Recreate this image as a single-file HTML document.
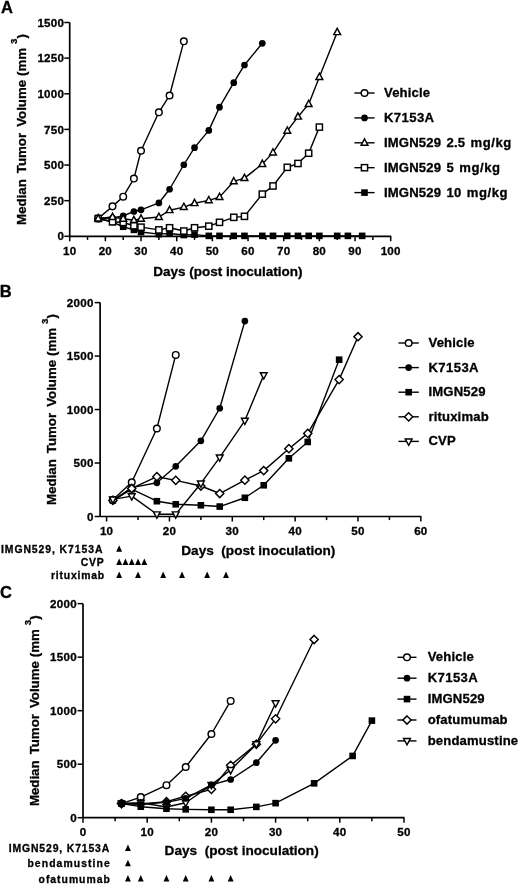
<!DOCTYPE html>
<html><head><meta charset="utf-8"><style>
html,body{margin:0;padding:0;background:#fff;}
svg{display:block;filter:blur(0.3px);}
text{font-family:"Liberation Sans", sans-serif;font-weight:bold;fill:#000;white-space:pre;stroke:#000;stroke-width:0.3px;}
</style></head><body>
<svg width="520" height="885" viewBox="0 0 520 885">
<rect width="520" height="885" fill="#fff"/>
<text x="1.00" y="13.20" font-size="16.5" text-anchor="start">A</text>
<path d="M69.70 22.51V236.30" stroke="#000" stroke-width="1.7" fill="none"/>
<path d="M69.70 236.30H391.20" stroke="#000" stroke-width="1.7" fill="none"/>
<path d="M64.30 236.30H69.70" stroke="#000" stroke-width="1.5"/>
<text x="64.20" y="240.40" font-size="11.6" text-anchor="end" letter-spacing="0.25">0</text>
<path d="M64.30 200.67H69.70" stroke="#000" stroke-width="1.5"/>
<text x="64.20" y="204.77" font-size="11.6" text-anchor="end" letter-spacing="0.25">250</text>
<path d="M64.30 165.04H69.70" stroke="#000" stroke-width="1.5"/>
<text x="64.20" y="169.14" font-size="11.6" text-anchor="end" letter-spacing="0.25">500</text>
<path d="M64.30 129.40H69.70" stroke="#000" stroke-width="1.5"/>
<text x="64.20" y="133.50" font-size="11.6" text-anchor="end" letter-spacing="0.25">750</text>
<path d="M64.30 93.77H69.70" stroke="#000" stroke-width="1.5"/>
<text x="64.20" y="97.87" font-size="11.6" text-anchor="end" letter-spacing="0.25">1000</text>
<path d="M64.30 58.14H69.70" stroke="#000" stroke-width="1.5"/>
<text x="64.20" y="62.24" font-size="11.6" text-anchor="end" letter-spacing="0.25">1250</text>
<path d="M64.30 22.51H69.70" stroke="#000" stroke-width="1.5"/>
<text x="64.20" y="26.61" font-size="11.6" text-anchor="end" letter-spacing="0.25">1500</text>
<path d="M69.70 236.30V241.30" stroke="#000" stroke-width="1.5"/>
<text x="69.70" y="255.40" font-size="11.6" text-anchor="middle" letter-spacing="0.25">10</text>
<path d="M105.37 236.30V241.30" stroke="#000" stroke-width="1.5"/>
<text x="105.37" y="255.40" font-size="11.6" text-anchor="middle" letter-spacing="0.25">20</text>
<path d="M141.03 236.30V241.30" stroke="#000" stroke-width="1.5"/>
<text x="141.03" y="255.40" font-size="11.6" text-anchor="middle" letter-spacing="0.25">30</text>
<path d="M176.70 236.30V241.30" stroke="#000" stroke-width="1.5"/>
<text x="176.70" y="255.40" font-size="11.6" text-anchor="middle" letter-spacing="0.25">40</text>
<path d="M212.37 236.30V241.30" stroke="#000" stroke-width="1.5"/>
<text x="212.37" y="255.40" font-size="11.6" text-anchor="middle" letter-spacing="0.25">50</text>
<path d="M248.04 236.30V241.30" stroke="#000" stroke-width="1.5"/>
<text x="248.04" y="255.40" font-size="11.6" text-anchor="middle" letter-spacing="0.25">60</text>
<path d="M283.70 236.30V241.30" stroke="#000" stroke-width="1.5"/>
<text x="283.70" y="255.40" font-size="11.6" text-anchor="middle" letter-spacing="0.25">70</text>
<path d="M319.37 236.30V241.30" stroke="#000" stroke-width="1.5"/>
<text x="319.37" y="255.40" font-size="11.6" text-anchor="middle" letter-spacing="0.25">80</text>
<path d="M355.04 236.30V241.30" stroke="#000" stroke-width="1.5"/>
<text x="355.04" y="255.40" font-size="11.6" text-anchor="middle" letter-spacing="0.25">90</text>
<path d="M390.70 236.30V241.30" stroke="#000" stroke-width="1.5"/>
<text x="390.70" y="255.40" font-size="11.6" text-anchor="middle" letter-spacing="0.25">100</text>
<path d="M87.53 236.30V239.90" stroke="#000" stroke-width="1.5"/>
<path d="M123.20 236.30V239.90" stroke="#000" stroke-width="1.5"/>
<path d="M158.87 236.30V239.90" stroke="#000" stroke-width="1.5"/>
<path d="M194.53 236.30V239.90" stroke="#000" stroke-width="1.5"/>
<path d="M230.20 236.30V239.90" stroke="#000" stroke-width="1.5"/>
<path d="M265.87 236.30V239.90" stroke="#000" stroke-width="1.5"/>
<path d="M301.54 236.30V239.90" stroke="#000" stroke-width="1.5"/>
<path d="M337.20 236.30V239.90" stroke="#000" stroke-width="1.5"/>
<path d="M372.87 236.30V239.90" stroke="#000" stroke-width="1.5"/>
<text x="153.20" y="275.70" font-size="13.5" text-anchor="start">Days (post inoculation)</text>
<text transform="translate(25.90 129.50) rotate(-90)" font-size="13.25" text-anchor="middle">Median<tspan dx="2.4"> Tumor</tspan><tspan dx="2.4"> Volume</tspan><tspan dx="0.3"> (mm</tspan><tspan font-size="9.6" dy="-8.6" dx="3.9">3</tspan><tspan dy="8.6" dx="0.2">)</tspan></text>
<path d="M98.23 218.48L112.50 206.37L123.20 196.68L133.90 178.58L141.03 150.78L158.87 112.30L169.57 95.48L183.83 41.32" stroke="#000" stroke-width="1.4" fill="none" stroke-linejoin="round"/>
<circle cx="98.23" cy="218.48" r="3.30" fill="#fff" stroke="#000" stroke-width="1.45"/>
<circle cx="112.50" cy="206.37" r="3.30" fill="#fff" stroke="#000" stroke-width="1.45"/>
<circle cx="123.20" cy="196.68" r="3.30" fill="#fff" stroke="#000" stroke-width="1.45"/>
<circle cx="133.90" cy="178.58" r="3.30" fill="#fff" stroke="#000" stroke-width="1.45"/>
<circle cx="141.03" cy="150.78" r="3.30" fill="#fff" stroke="#000" stroke-width="1.45"/>
<circle cx="158.87" cy="112.30" r="3.30" fill="#fff" stroke="#000" stroke-width="1.45"/>
<circle cx="169.57" cy="95.48" r="3.30" fill="#fff" stroke="#000" stroke-width="1.45"/>
<circle cx="183.83" cy="41.32" r="3.30" fill="#fff" stroke="#000" stroke-width="1.45"/>
<path d="M98.23 218.48L112.50 218.06L123.20 215.78L133.90 211.50L141.03 209.79L158.87 202.95L169.57 189.27L183.83 164.75L194.53 147.65L208.80 130.40L219.50 107.17L233.77 82.65L244.47 64.98L262.30 43.31" stroke="#000" stroke-width="1.4" fill="none" stroke-linejoin="round"/>
<circle cx="98.23" cy="218.48" r="3.35" fill="#000"/>
<circle cx="112.50" cy="218.06" r="3.35" fill="#000"/>
<circle cx="123.20" cy="215.78" r="3.35" fill="#000"/>
<circle cx="133.90" cy="211.50" r="3.35" fill="#000"/>
<circle cx="141.03" cy="209.79" r="3.35" fill="#000"/>
<circle cx="158.87" cy="202.95" r="3.35" fill="#000"/>
<circle cx="169.57" cy="189.27" r="3.35" fill="#000"/>
<circle cx="183.83" cy="164.75" r="3.35" fill="#000"/>
<circle cx="194.53" cy="147.65" r="3.35" fill="#000"/>
<circle cx="208.80" cy="130.40" r="3.35" fill="#000"/>
<circle cx="219.50" cy="107.17" r="3.35" fill="#000"/>
<circle cx="233.77" cy="82.65" r="3.35" fill="#000"/>
<circle cx="244.47" cy="64.98" r="3.35" fill="#000"/>
<circle cx="262.30" cy="43.31" r="3.35" fill="#000"/>
<path d="M98.23 218.48L112.50 222.05L123.20 226.75L133.90 229.89L141.03 232.02L158.87 234.16L169.57 233.45L183.83 235.02L194.53 234.59L208.80 235.87L219.50 235.87L233.77 235.87L244.47 235.87L262.30 235.87L273.00 235.87L287.27 235.87L297.97 235.87L308.67 235.87L319.37 235.87L337.20 235.87L347.90 235.87L362.17 235.87" stroke="#000" stroke-width="1.4" fill="none" stroke-linejoin="round"/>
<rect x="94.93" y="215.18" width="6.60" height="6.60" fill="#000"/>
<rect x="109.20" y="218.75" width="6.60" height="6.60" fill="#000"/>
<rect x="119.90" y="223.45" width="6.60" height="6.60" fill="#000"/>
<rect x="130.60" y="226.59" width="6.60" height="6.60" fill="#000"/>
<rect x="137.73" y="228.72" width="6.60" height="6.60" fill="#000"/>
<rect x="155.57" y="230.86" width="6.60" height="6.60" fill="#000"/>
<rect x="166.27" y="230.15" width="6.60" height="6.60" fill="#000"/>
<rect x="180.53" y="231.72" width="6.60" height="6.60" fill="#000"/>
<rect x="191.23" y="231.29" width="6.60" height="6.60" fill="#000"/>
<rect x="205.50" y="232.57" width="6.60" height="6.60" fill="#000"/>
<rect x="216.20" y="232.57" width="6.60" height="6.60" fill="#000"/>
<rect x="230.47" y="232.57" width="6.60" height="6.60" fill="#000"/>
<rect x="241.17" y="232.57" width="6.60" height="6.60" fill="#000"/>
<rect x="259.00" y="232.57" width="6.60" height="6.60" fill="#000"/>
<rect x="269.70" y="232.57" width="6.60" height="6.60" fill="#000"/>
<rect x="283.97" y="232.57" width="6.60" height="6.60" fill="#000"/>
<rect x="294.67" y="232.57" width="6.60" height="6.60" fill="#000"/>
<rect x="305.37" y="232.57" width="6.60" height="6.60" fill="#000"/>
<rect x="316.07" y="232.57" width="6.60" height="6.60" fill="#000"/>
<rect x="333.90" y="232.57" width="6.60" height="6.60" fill="#000"/>
<rect x="344.60" y="232.57" width="6.60" height="6.60" fill="#000"/>
<rect x="358.87" y="232.57" width="6.60" height="6.60" fill="#000"/>
<path d="M98.23 218.48L112.50 221.76L123.20 222.47L133.90 225.75L141.03 227.18L158.87 229.89L169.57 227.75L183.83 231.03L194.53 227.75L208.80 226.18L219.50 222.33L233.77 217.34L244.47 216.35L262.30 194.11L273.00 185.99L287.27 167.32L297.97 163.47L308.67 153.21L319.37 127.12" stroke="#000" stroke-width="1.4" fill="none" stroke-linejoin="round"/>
<rect x="95.13" y="215.38" width="6.20" height="6.20" fill="#fff" stroke="#000" stroke-width="1.45"/>
<rect x="109.40" y="218.66" width="6.20" height="6.20" fill="#fff" stroke="#000" stroke-width="1.45"/>
<rect x="120.10" y="219.37" width="6.20" height="6.20" fill="#fff" stroke="#000" stroke-width="1.45"/>
<rect x="130.80" y="222.65" width="6.20" height="6.20" fill="#fff" stroke="#000" stroke-width="1.45"/>
<rect x="137.93" y="224.08" width="6.20" height="6.20" fill="#fff" stroke="#000" stroke-width="1.45"/>
<rect x="155.77" y="226.79" width="6.20" height="6.20" fill="#fff" stroke="#000" stroke-width="1.45"/>
<rect x="166.47" y="224.65" width="6.20" height="6.20" fill="#fff" stroke="#000" stroke-width="1.45"/>
<rect x="180.73" y="227.93" width="6.20" height="6.20" fill="#fff" stroke="#000" stroke-width="1.45"/>
<rect x="191.43" y="224.65" width="6.20" height="6.20" fill="#fff" stroke="#000" stroke-width="1.45"/>
<rect x="205.70" y="223.08" width="6.20" height="6.20" fill="#fff" stroke="#000" stroke-width="1.45"/>
<rect x="216.40" y="219.23" width="6.20" height="6.20" fill="#fff" stroke="#000" stroke-width="1.45"/>
<rect x="230.67" y="214.24" width="6.20" height="6.20" fill="#fff" stroke="#000" stroke-width="1.45"/>
<rect x="241.37" y="213.25" width="6.20" height="6.20" fill="#fff" stroke="#000" stroke-width="1.45"/>
<rect x="259.20" y="191.01" width="6.20" height="6.20" fill="#fff" stroke="#000" stroke-width="1.45"/>
<rect x="269.90" y="182.89" width="6.20" height="6.20" fill="#fff" stroke="#000" stroke-width="1.45"/>
<rect x="284.17" y="164.22" width="6.20" height="6.20" fill="#fff" stroke="#000" stroke-width="1.45"/>
<rect x="294.87" y="160.37" width="6.20" height="6.20" fill="#fff" stroke="#000" stroke-width="1.45"/>
<rect x="305.57" y="150.11" width="6.20" height="6.20" fill="#fff" stroke="#000" stroke-width="1.45"/>
<rect x="316.27" y="124.02" width="6.20" height="6.20" fill="#fff" stroke="#000" stroke-width="1.45"/>
<path d="M98.23 218.48L112.50 217.06L123.20 218.77L133.90 220.19L141.03 218.77L158.87 217.06L169.57 210.22L183.83 207.08L194.53 203.23L208.80 200.38L219.50 197.10L233.77 181.43L244.47 178.15L262.30 164.04L273.00 152.63L287.27 130.83L297.97 116.72L308.67 104.17L319.37 77.09L337.20 32.20" stroke="#000" stroke-width="1.4" fill="none" stroke-linejoin="round"/>
<path d="M98.23 214.58L101.63 220.88L94.83 220.88Z" fill="#fff" stroke="#000" stroke-width="1.45"/>
<path d="M112.50 213.16L115.90 219.46L109.10 219.46Z" fill="#fff" stroke="#000" stroke-width="1.45"/>
<path d="M123.20 214.87L126.60 221.17L119.80 221.17Z" fill="#fff" stroke="#000" stroke-width="1.45"/>
<path d="M133.90 216.29L137.30 222.59L130.50 222.59Z" fill="#fff" stroke="#000" stroke-width="1.45"/>
<path d="M141.03 214.87L144.43 221.17L137.63 221.17Z" fill="#fff" stroke="#000" stroke-width="1.45"/>
<path d="M158.87 213.16L162.27 219.46L155.47 219.46Z" fill="#fff" stroke="#000" stroke-width="1.45"/>
<path d="M169.57 206.32L172.97 212.62L166.17 212.62Z" fill="#fff" stroke="#000" stroke-width="1.45"/>
<path d="M183.83 203.18L187.23 209.48L180.43 209.48Z" fill="#fff" stroke="#000" stroke-width="1.45"/>
<path d="M194.53 199.33L197.93 205.63L191.13 205.63Z" fill="#fff" stroke="#000" stroke-width="1.45"/>
<path d="M208.80 196.48L212.20 202.78L205.40 202.78Z" fill="#fff" stroke="#000" stroke-width="1.45"/>
<path d="M219.50 193.20L222.90 199.50L216.10 199.50Z" fill="#fff" stroke="#000" stroke-width="1.45"/>
<path d="M233.77 177.53L237.17 183.83L230.37 183.83Z" fill="#fff" stroke="#000" stroke-width="1.45"/>
<path d="M244.47 174.25L247.87 180.55L241.07 180.55Z" fill="#fff" stroke="#000" stroke-width="1.45"/>
<path d="M262.30 160.14L265.70 166.44L258.90 166.44Z" fill="#fff" stroke="#000" stroke-width="1.45"/>
<path d="M273.00 148.73L276.40 155.03L269.60 155.03Z" fill="#fff" stroke="#000" stroke-width="1.45"/>
<path d="M287.27 126.93L290.67 133.23L283.87 133.23Z" fill="#fff" stroke="#000" stroke-width="1.45"/>
<path d="M297.97 112.82L301.37 119.12L294.57 119.12Z" fill="#fff" stroke="#000" stroke-width="1.45"/>
<path d="M308.67 100.27L312.07 106.57L305.27 106.57Z" fill="#fff" stroke="#000" stroke-width="1.45"/>
<path d="M319.37 73.19L322.77 79.49L315.97 79.49Z" fill="#fff" stroke="#000" stroke-width="1.45"/>
<path d="M337.20 28.30L340.60 34.60L333.80 34.60Z" fill="#fff" stroke="#000" stroke-width="1.45"/>
<path d="M354.40 93.00H374.60" stroke="#000" stroke-width="1.4"/>
<circle cx="364.50" cy="93.00" r="3.30" fill="#fff" stroke="#000" stroke-width="1.45"/>
<text x="384.00" y="96.90" font-size="13.1" text-anchor="start" letter-spacing="0.15" word-spacing="1.6">Vehicle</text>
<path d="M354.40 117.90H374.60" stroke="#000" stroke-width="1.4"/>
<circle cx="364.50" cy="117.90" r="3.35" fill="#000"/>
<text x="384.00" y="121.80" font-size="13.1" text-anchor="start" letter-spacing="0.4" word-spacing="1.6">K7153A</text>
<path d="M354.40 142.80H374.60" stroke="#000" stroke-width="1.4"/>
<path d="M364.50 138.90L367.90 145.20L361.10 145.20Z" fill="#fff" stroke="#000" stroke-width="1.45"/>
<text x="384.00" y="146.70" font-size="13.1" text-anchor="start" letter-spacing="0.15" word-spacing="1.6">IMGN529 2.5 <tspan letter-spacing="0.55">mg/kg</tspan></text>
<path d="M354.40 167.70H374.60" stroke="#000" stroke-width="1.4"/>
<rect x="361.40" y="164.60" width="6.20" height="6.20" fill="#fff" stroke="#000" stroke-width="1.45"/>
<text x="384.00" y="171.60" font-size="13.1" text-anchor="start" letter-spacing="0.15" word-spacing="1.6">IMGN529 5 <tspan letter-spacing="0.55">mg/kg</tspan></text>
<path d="M354.40 192.60H374.60" stroke="#000" stroke-width="1.4"/>
<rect x="361.20" y="189.30" width="6.60" height="6.60" fill="#000"/>
<text x="384.00" y="196.50" font-size="13.1" text-anchor="start" letter-spacing="0.15" word-spacing="1.6">IMGN529 10 <tspan letter-spacing="0.55">mg/kg</tspan></text>
<text x="-0.20" y="297.20" font-size="16.5" text-anchor="start">B</text>
<path d="M100.10 302.60V516.50" stroke="#000" stroke-width="1.7" fill="none"/>
<path d="M100.10 516.50H421.35" stroke="#000" stroke-width="1.7" fill="none"/>
<path d="M94.70 516.50H100.10" stroke="#000" stroke-width="1.5"/>
<text x="93.60" y="520.60" font-size="11.6" text-anchor="end" letter-spacing="0.25">0</text>
<path d="M94.70 463.02H100.10" stroke="#000" stroke-width="1.5"/>
<text x="93.60" y="467.12" font-size="11.6" text-anchor="end" letter-spacing="0.25">500</text>
<path d="M94.70 409.55H100.10" stroke="#000" stroke-width="1.5"/>
<text x="93.60" y="413.65" font-size="11.6" text-anchor="end" letter-spacing="0.25">1000</text>
<path d="M94.70 356.07H100.10" stroke="#000" stroke-width="1.5"/>
<text x="93.60" y="360.18" font-size="11.6" text-anchor="end" letter-spacing="0.25">1500</text>
<path d="M94.70 302.60H100.10" stroke="#000" stroke-width="1.5"/>
<text x="93.60" y="306.70" font-size="11.6" text-anchor="end" letter-spacing="0.25">2000</text>
<path d="M106.60 516.50V521.50" stroke="#000" stroke-width="1.5"/>
<text x="106.60" y="535.20" font-size="11.6" text-anchor="middle" letter-spacing="0.25">10</text>
<path d="M169.45 516.50V521.50" stroke="#000" stroke-width="1.5"/>
<text x="169.45" y="535.20" font-size="11.6" text-anchor="middle" letter-spacing="0.25">20</text>
<path d="M232.30 516.50V521.50" stroke="#000" stroke-width="1.5"/>
<text x="232.30" y="535.20" font-size="11.6" text-anchor="middle" letter-spacing="0.25">30</text>
<path d="M295.15 516.50V521.50" stroke="#000" stroke-width="1.5"/>
<text x="295.15" y="535.20" font-size="11.6" text-anchor="middle" letter-spacing="0.25">40</text>
<path d="M358.00 516.50V521.50" stroke="#000" stroke-width="1.5"/>
<text x="358.00" y="535.20" font-size="11.6" text-anchor="middle" letter-spacing="0.25">50</text>
<path d="M420.85 516.50V521.50" stroke="#000" stroke-width="1.5"/>
<text x="420.85" y="535.20" font-size="11.6" text-anchor="middle" letter-spacing="0.25">60</text>
<path d="M138.03 516.50V520.10" stroke="#000" stroke-width="1.5"/>
<path d="M200.88 516.50V520.10" stroke="#000" stroke-width="1.5"/>
<path d="M263.73 516.50V520.10" stroke="#000" stroke-width="1.5"/>
<path d="M326.57 516.50V520.10" stroke="#000" stroke-width="1.5"/>
<path d="M389.42 516.50V520.10" stroke="#000" stroke-width="1.5"/>
<text x="181.30" y="555.30" font-size="13.6" text-anchor="start">Days  (post inoculation)</text>
<text transform="translate(56.10 409.50) rotate(-90)" font-size="13.25" text-anchor="middle">Median<tspan dx="2.4"> Tumor</tspan><tspan dx="2.4"> Volume</tspan><tspan dx="0.3"> (mm</tspan><tspan font-size="9.6" dy="-8.6" dx="3.9">3</tspan><tspan dy="8.6" dx="0.2">)</tspan></text>
<path d="M112.88 499.71L131.74 482.28L156.88 428.48L175.74 354.90" stroke="#000" stroke-width="1.4" fill="none" stroke-linejoin="round"/>
<circle cx="112.88" cy="499.71" r="3.30" fill="#fff" stroke="#000" stroke-width="1.45"/>
<circle cx="131.74" cy="482.28" r="3.30" fill="#fff" stroke="#000" stroke-width="1.45"/>
<circle cx="156.88" cy="428.48" r="3.30" fill="#fff" stroke="#000" stroke-width="1.45"/>
<circle cx="175.74" cy="354.90" r="3.30" fill="#fff" stroke="#000" stroke-width="1.45"/>
<path d="M112.88 500.46L131.74 487.62L156.88 482.81L175.74 466.34L200.88 440.78L219.73 408.27L244.87 321.10" stroke="#000" stroke-width="1.4" fill="none" stroke-linejoin="round"/>
<circle cx="112.88" cy="500.46" r="3.35" fill="#000"/>
<circle cx="131.74" cy="487.62" r="3.35" fill="#000"/>
<circle cx="156.88" cy="482.81" r="3.35" fill="#000"/>
<circle cx="175.74" cy="466.34" r="3.35" fill="#000"/>
<circle cx="200.88" cy="440.78" r="3.35" fill="#000"/>
<circle cx="219.73" cy="408.27" r="3.35" fill="#000"/>
<circle cx="244.87" cy="321.10" r="3.35" fill="#000"/>
<path d="M112.88 500.46L131.74 489.23L156.88 501.21L175.74 504.31L200.88 505.27L219.73 506.55L244.87 497.78L263.73 485.27L288.87 458.32L307.72 441.96L339.14 359.71" stroke="#000" stroke-width="1.4" fill="none" stroke-linejoin="round"/>
<rect x="109.58" y="497.16" width="6.60" height="6.60" fill="#000"/>
<rect x="128.44" y="485.93" width="6.60" height="6.60" fill="#000"/>
<rect x="153.58" y="497.91" width="6.60" height="6.60" fill="#000"/>
<rect x="172.44" y="501.01" width="6.60" height="6.60" fill="#000"/>
<rect x="197.57" y="501.97" width="6.60" height="6.60" fill="#000"/>
<rect x="216.43" y="503.25" width="6.60" height="6.60" fill="#000"/>
<rect x="241.57" y="494.48" width="6.60" height="6.60" fill="#000"/>
<rect x="260.43" y="481.97" width="6.60" height="6.60" fill="#000"/>
<rect x="285.56" y="455.02" width="6.60" height="6.60" fill="#000"/>
<rect x="304.42" y="438.66" width="6.60" height="6.60" fill="#000"/>
<rect x="335.84" y="356.41" width="6.60" height="6.60" fill="#000"/>
<path d="M112.88 500.46L131.74 488.48L156.88 476.71L175.74 480.35L200.88 486.02L219.73 493.51L244.87 480.14L263.73 470.62L288.87 448.69L307.72 433.40L339.14 379.60L358.00 336.72" stroke="#000" stroke-width="1.4" fill="none" stroke-linejoin="round"/>
<path d="M112.88 496.36L116.98 500.46L112.88 504.56L108.78 500.46Z" fill="#fff" stroke="#000" stroke-width="1.45"/>
<path d="M131.74 484.38L135.84 488.48L131.74 492.58L127.64 488.48Z" fill="#fff" stroke="#000" stroke-width="1.45"/>
<path d="M156.88 472.61L160.98 476.71L156.88 480.81L152.78 476.71Z" fill="#fff" stroke="#000" stroke-width="1.45"/>
<path d="M175.74 476.25L179.84 480.35L175.74 484.45L171.64 480.35Z" fill="#fff" stroke="#000" stroke-width="1.45"/>
<path d="M200.88 481.92L204.97 486.02L200.88 490.12L196.78 486.02Z" fill="#fff" stroke="#000" stroke-width="1.45"/>
<path d="M219.73 489.41L223.83 493.51L219.73 497.61L215.63 493.51Z" fill="#fff" stroke="#000" stroke-width="1.45"/>
<path d="M244.87 476.04L248.97 480.14L244.87 484.24L240.77 480.14Z" fill="#fff" stroke="#000" stroke-width="1.45"/>
<path d="M263.73 466.52L267.83 470.62L263.73 474.72L259.62 470.62Z" fill="#fff" stroke="#000" stroke-width="1.45"/>
<path d="M288.87 444.59L292.97 448.69L288.87 452.79L284.76 448.69Z" fill="#fff" stroke="#000" stroke-width="1.45"/>
<path d="M307.72 429.30L311.82 433.40L307.72 437.50L303.62 433.40Z" fill="#fff" stroke="#000" stroke-width="1.45"/>
<path d="M339.14 375.50L343.25 379.60L339.14 383.70L335.04 379.60Z" fill="#fff" stroke="#000" stroke-width="1.45"/>
<path d="M358.00 332.62L362.10 336.72L358.00 340.82L353.90 336.72Z" fill="#fff" stroke="#000" stroke-width="1.45"/>
<path d="M112.88 499.39L131.74 496.18L156.88 514.25L175.74 514.25L200.88 483.45L219.73 457.36L244.87 420.57L263.73 375.11" stroke="#000" stroke-width="1.4" fill="none" stroke-linejoin="round"/>
<path d="M112.88 503.29L116.28 496.99L109.48 496.99Z" fill="#fff" stroke="#000" stroke-width="1.45"/>
<path d="M131.74 500.08L135.14 493.78L128.34 493.78Z" fill="#fff" stroke="#000" stroke-width="1.45"/>
<path d="M156.88 518.15L160.28 511.85L153.48 511.85Z" fill="#fff" stroke="#000" stroke-width="1.45"/>
<path d="M175.74 518.15L179.14 511.85L172.34 511.85Z" fill="#fff" stroke="#000" stroke-width="1.45"/>
<path d="M200.88 487.35L204.28 481.05L197.47 481.05Z" fill="#fff" stroke="#000" stroke-width="1.45"/>
<path d="M219.73 461.26L223.13 454.96L216.33 454.96Z" fill="#fff" stroke="#000" stroke-width="1.45"/>
<path d="M244.87 424.47L248.27 418.17L241.47 418.17Z" fill="#fff" stroke="#000" stroke-width="1.45"/>
<path d="M263.73 379.01L267.12 372.71L260.33 372.71Z" fill="#fff" stroke="#000" stroke-width="1.45"/>
<path d="M398.50 343.00H418.80" stroke="#000" stroke-width="1.4"/>
<circle cx="408.65" cy="343.00" r="3.30" fill="#fff" stroke="#000" stroke-width="1.45"/>
<text x="428.50" y="346.90" font-size="13.1" text-anchor="start" letter-spacing="0.15" word-spacing="1.6">Vehicle</text>
<path d="M398.50 367.60H418.80" stroke="#000" stroke-width="1.4"/>
<circle cx="408.65" cy="367.60" r="3.35" fill="#000"/>
<text x="428.50" y="371.50" font-size="13.1" text-anchor="start" letter-spacing="0.4" word-spacing="1.6">K7153A</text>
<path d="M398.50 392.20H418.80" stroke="#000" stroke-width="1.4"/>
<rect x="405.35" y="388.90" width="6.60" height="6.60" fill="#000"/>
<text x="428.50" y="396.10" font-size="13.1" text-anchor="start" letter-spacing="0.15" word-spacing="1.6">IMGN529</text>
<path d="M398.50 416.80H418.80" stroke="#000" stroke-width="1.4"/>
<path d="M408.65 412.70L412.75 416.80L408.65 420.90L404.55 416.80Z" fill="#fff" stroke="#000" stroke-width="1.45"/>
<text x="428.50" y="420.70" font-size="13.1" text-anchor="start" letter-spacing="0.15" word-spacing="1.6">rituximab</text>
<path d="M398.50 441.40H418.80" stroke="#000" stroke-width="1.4"/>
<path d="M408.65 445.30L412.05 439.00L405.25 439.00Z" fill="#fff" stroke="#000" stroke-width="1.45"/>
<text x="428.50" y="445.30" font-size="13.1" text-anchor="start" letter-spacing="0.15" word-spacing="1.6">CVP</text>
<text x="1.00" y="553.00" font-size="10.4" text-anchor="start" letter-spacing="0.93">IMGN529, K7153A</text>
<path d="M119.17 545.30L122.12 551.80L116.22 551.80Z" fill="#000"/>
<text x="80.80" y="566.20" font-size="10.4" text-anchor="start" letter-spacing="0.8">CVP</text>
<path d="M119.17 558.50L122.12 565.00L116.22 565.00Z" fill="#000"/>
<path d="M125.45 558.50L128.41 565.00L122.50 565.00Z" fill="#000"/>
<path d="M131.74 558.50L134.69 565.00L128.79 565.00Z" fill="#000"/>
<path d="M138.03 558.50L140.97 565.00L135.08 565.00Z" fill="#000"/>
<path d="M144.31 558.50L147.26 565.00L141.36 565.00Z" fill="#000"/>
<text x="51.00" y="579.20" font-size="10.4" text-anchor="start" letter-spacing="0.8">rituximab</text>
<path d="M119.17 571.50L122.12 578.00L116.22 578.00Z" fill="#000"/>
<path d="M138.03 571.50L140.97 578.00L135.08 578.00Z" fill="#000"/>
<path d="M163.16 571.50L166.11 578.00L160.22 578.00Z" fill="#000"/>
<path d="M182.02 571.50L184.97 578.00L179.07 578.00Z" fill="#000"/>
<path d="M207.16 571.50L210.11 578.00L204.21 578.00Z" fill="#000"/>
<path d="M226.01 571.50L228.96 578.00L223.06 578.00Z" fill="#000"/>
<text x="0.10" y="597.90" font-size="16.5" text-anchor="start">C</text>
<path d="M83.00 603.64V817.70" stroke="#000" stroke-width="1.7" fill="none"/>
<path d="M83.00 817.70H404.50" stroke="#000" stroke-width="1.7" fill="none"/>
<path d="M77.60 817.70H83.00" stroke="#000" stroke-width="1.5"/>
<text x="76.90" y="821.80" font-size="11.6" text-anchor="end" letter-spacing="0.25">0</text>
<path d="M77.60 764.19H83.00" stroke="#000" stroke-width="1.5"/>
<text x="76.90" y="768.29" font-size="11.6" text-anchor="end" letter-spacing="0.25">500</text>
<path d="M77.60 710.67H83.00" stroke="#000" stroke-width="1.5"/>
<text x="76.90" y="714.77" font-size="11.6" text-anchor="end" letter-spacing="0.25">1000</text>
<path d="M77.60 657.16H83.00" stroke="#000" stroke-width="1.5"/>
<text x="76.90" y="661.26" font-size="11.6" text-anchor="end" letter-spacing="0.25">1500</text>
<path d="M77.60 603.64H83.00" stroke="#000" stroke-width="1.5"/>
<text x="76.90" y="607.74" font-size="11.6" text-anchor="end" letter-spacing="0.25">2000</text>
<path d="M83.00 817.70V822.70" stroke="#000" stroke-width="1.5"/>
<text x="83.00" y="836.10" font-size="11.6" text-anchor="middle" letter-spacing="0.25">0</text>
<path d="M147.20 817.70V822.70" stroke="#000" stroke-width="1.5"/>
<text x="147.20" y="836.10" font-size="11.6" text-anchor="middle" letter-spacing="0.25">10</text>
<path d="M211.40 817.70V822.70" stroke="#000" stroke-width="1.5"/>
<text x="211.40" y="836.10" font-size="11.6" text-anchor="middle" letter-spacing="0.25">20</text>
<path d="M275.60 817.70V822.70" stroke="#000" stroke-width="1.5"/>
<text x="275.60" y="836.10" font-size="11.6" text-anchor="middle" letter-spacing="0.25">30</text>
<path d="M339.80 817.70V822.70" stroke="#000" stroke-width="1.5"/>
<text x="339.80" y="836.10" font-size="11.6" text-anchor="middle" letter-spacing="0.25">40</text>
<path d="M404.00 817.70V822.70" stroke="#000" stroke-width="1.5"/>
<text x="404.00" y="836.10" font-size="11.6" text-anchor="middle" letter-spacing="0.25">50</text>
<path d="M115.10 817.70V821.30" stroke="#000" stroke-width="1.5"/>
<path d="M179.30 817.70V821.30" stroke="#000" stroke-width="1.5"/>
<path d="M243.50 817.70V821.30" stroke="#000" stroke-width="1.5"/>
<path d="M307.70 817.70V821.30" stroke="#000" stroke-width="1.5"/>
<path d="M371.90 817.70V821.30" stroke="#000" stroke-width="1.5"/>
<text x="164.60" y="855.40" font-size="13.6" text-anchor="start">Days  (post inoculation)</text>
<text transform="translate(39.40 710.70) rotate(-90)" font-size="13.25" text-anchor="middle">Median<tspan dx="2.4"> Tumor</tspan><tspan dx="2.4"> Volume</tspan><tspan dx="0.3"> (mm</tspan><tspan font-size="9.6" dy="-8.6" dx="3.9">3</tspan><tspan dy="8.6" dx="0.2">)</tspan></text>
<path d="M121.52 803.57L140.78 797.04L166.46 785.16L185.72 766.97L211.40 734.00L230.66 700.93" stroke="#000" stroke-width="1.4" fill="none" stroke-linejoin="round"/>
<circle cx="121.52" cy="803.57" r="3.30" fill="#fff" stroke="#000" stroke-width="1.45"/>
<circle cx="140.78" cy="797.04" r="3.30" fill="#fff" stroke="#000" stroke-width="1.45"/>
<circle cx="166.46" cy="785.16" r="3.30" fill="#fff" stroke="#000" stroke-width="1.45"/>
<circle cx="185.72" cy="766.97" r="3.30" fill="#fff" stroke="#000" stroke-width="1.45"/>
<circle cx="211.40" cy="734.00" r="3.30" fill="#fff" stroke="#000" stroke-width="1.45"/>
<circle cx="230.66" cy="700.93" r="3.30" fill="#fff" stroke="#000" stroke-width="1.45"/>
<path d="M121.52 803.57L140.78 804.00L166.46 801.65L185.72 796.29L211.40 789.34L230.66 765.36L256.34 744.17L275.60 718.80L314.12 639.50" stroke="#000" stroke-width="1.4" fill="none" stroke-linejoin="round"/>
<path d="M121.52 799.47L125.62 803.57L121.52 807.67L117.42 803.57Z" fill="#fff" stroke="#000" stroke-width="1.45"/>
<path d="M140.78 799.90L144.88 804.00L140.78 808.10L136.68 804.00Z" fill="#fff" stroke="#000" stroke-width="1.45"/>
<path d="M166.46 797.55L170.56 801.65L166.46 805.75L162.36 801.65Z" fill="#fff" stroke="#000" stroke-width="1.45"/>
<path d="M185.72 792.19L189.82 796.29L185.72 800.39L181.62 796.29Z" fill="#fff" stroke="#000" stroke-width="1.45"/>
<path d="M211.40 785.24L215.50 789.34L211.40 793.44L207.30 789.34Z" fill="#fff" stroke="#000" stroke-width="1.45"/>
<path d="M230.66 761.26L234.76 765.36L230.66 769.46L226.56 765.36Z" fill="#fff" stroke="#000" stroke-width="1.45"/>
<path d="M256.34 740.07L260.44 744.17L256.34 748.27L252.24 744.17Z" fill="#fff" stroke="#000" stroke-width="1.45"/>
<path d="M275.60 714.70L279.70 718.80L275.60 722.90L271.50 718.80Z" fill="#fff" stroke="#000" stroke-width="1.45"/>
<path d="M314.12 635.40L318.22 639.50L314.12 643.60L310.02 639.50Z" fill="#fff" stroke="#000" stroke-width="1.45"/>
<path d="M121.52 803.57L140.78 802.72L166.46 807.00L185.72 802.72L211.40 784.84L230.66 769.96L256.34 744.17L275.60 703.18" stroke="#000" stroke-width="1.4" fill="none" stroke-linejoin="round"/>
<path d="M121.52 807.47L124.92 801.17L118.12 801.17Z" fill="#fff" stroke="#000" stroke-width="1.45"/>
<path d="M140.78 806.62L144.18 800.32L137.38 800.32Z" fill="#fff" stroke="#000" stroke-width="1.45"/>
<path d="M166.46 810.90L169.86 804.60L163.06 804.60Z" fill="#fff" stroke="#000" stroke-width="1.45"/>
<path d="M185.72 806.62L189.12 800.32L182.32 800.32Z" fill="#fff" stroke="#000" stroke-width="1.45"/>
<path d="M211.40 788.74L214.80 782.44L208.00 782.44Z" fill="#fff" stroke="#000" stroke-width="1.45"/>
<path d="M230.66 773.86L234.06 767.56L227.26 767.56Z" fill="#fff" stroke="#000" stroke-width="1.45"/>
<path d="M256.34 748.07L259.74 741.77L252.94 741.77Z" fill="#fff" stroke="#000" stroke-width="1.45"/>
<path d="M275.60 707.08L279.00 700.78L272.20 700.78Z" fill="#fff" stroke="#000" stroke-width="1.45"/>
<path d="M121.52 803.57L140.78 804.32L166.46 802.39L185.72 798.43L211.40 784.84L230.66 779.49L256.34 762.69L275.60 740.32" stroke="#000" stroke-width="1.4" fill="none" stroke-linejoin="round"/>
<circle cx="121.52" cy="803.57" r="3.35" fill="#000"/>
<circle cx="140.78" cy="804.32" r="3.35" fill="#000"/>
<circle cx="166.46" cy="802.39" r="3.35" fill="#000"/>
<circle cx="185.72" cy="798.43" r="3.35" fill="#000"/>
<circle cx="211.40" cy="784.84" r="3.35" fill="#000"/>
<circle cx="230.66" cy="779.49" r="3.35" fill="#000"/>
<circle cx="256.34" cy="762.69" r="3.35" fill="#000"/>
<circle cx="275.60" cy="740.32" r="3.35" fill="#000"/>
<path d="M121.52 803.57L140.78 806.68L166.46 808.71L185.72 809.35L211.40 809.78L230.66 809.78L256.34 806.89L275.60 803.14L314.12 783.34L352.64 755.94L371.90 720.62" stroke="#000" stroke-width="1.4" fill="none" stroke-linejoin="round"/>
<rect x="118.22" y="800.27" width="6.60" height="6.60" fill="#000"/>
<rect x="137.48" y="803.38" width="6.60" height="6.60" fill="#000"/>
<rect x="163.16" y="805.41" width="6.60" height="6.60" fill="#000"/>
<rect x="182.42" y="806.05" width="6.60" height="6.60" fill="#000"/>
<rect x="208.10" y="806.48" width="6.60" height="6.60" fill="#000"/>
<rect x="227.36" y="806.48" width="6.60" height="6.60" fill="#000"/>
<rect x="253.04" y="803.59" width="6.60" height="6.60" fill="#000"/>
<rect x="272.30" y="799.84" width="6.60" height="6.60" fill="#000"/>
<rect x="310.82" y="780.04" width="6.60" height="6.60" fill="#000"/>
<rect x="349.34" y="752.64" width="6.60" height="6.60" fill="#000"/>
<rect x="368.60" y="717.32" width="6.60" height="6.60" fill="#000"/>
<path d="M397.50 657.30H416.50" stroke="#000" stroke-width="1.4"/>
<circle cx="407.00" cy="657.30" r="3.30" fill="#fff" stroke="#000" stroke-width="1.45"/>
<text x="427.70" y="661.20" font-size="13.1" text-anchor="start" letter-spacing="0.15" word-spacing="1.6">Vehicle</text>
<path d="M397.50 678.20H416.50" stroke="#000" stroke-width="1.4"/>
<circle cx="407.00" cy="678.20" r="3.35" fill="#000"/>
<text x="427.70" y="682.10" font-size="13.1" text-anchor="start" letter-spacing="0.4" word-spacing="1.6">K7153A</text>
<path d="M397.50 699.10H416.50" stroke="#000" stroke-width="1.4"/>
<rect x="403.70" y="695.80" width="6.60" height="6.60" fill="#000"/>
<text x="427.70" y="703.00" font-size="13.1" text-anchor="start" letter-spacing="0.15" word-spacing="1.6">IMGN529</text>
<path d="M397.50 720.00H416.50" stroke="#000" stroke-width="1.4"/>
<path d="M407.00 715.90L411.10 720.00L407.00 724.10L402.90 720.00Z" fill="#fff" stroke="#000" stroke-width="1.45"/>
<text x="427.70" y="723.90" font-size="13.1" text-anchor="start" letter-spacing="0.15" word-spacing="1.6">ofatumumab</text>
<path d="M397.50 740.90H416.50" stroke="#000" stroke-width="1.4"/>
<path d="M407.00 744.80L410.40 738.50L403.60 738.50Z" fill="#fff" stroke="#000" stroke-width="1.45"/>
<text x="427.70" y="744.80" font-size="13.1" text-anchor="start" letter-spacing="0.15" word-spacing="1.6">bendamustine</text>
<text x="8.80" y="852.20" font-size="10.4" text-anchor="start" letter-spacing="0.86">IMGN529, K7153A</text>
<path d="M127.94 844.50L130.89 851.00L124.99 851.00Z" fill="#000"/>
<text x="27.40" y="867.40" font-size="10.4" text-anchor="start" letter-spacing="1.09">bendamustine</text>
<path d="M127.94 859.70L130.89 866.20L124.99 866.20Z" fill="#000"/>
<text x="38.60" y="882.70" font-size="10.4" text-anchor="start" letter-spacing="0.98">ofatumumab</text>
<path d="M127.94 875.00L130.89 881.50L124.99 881.50Z" fill="#000"/>
<path d="M140.78 875.00L143.73 881.50L137.83 881.50Z" fill="#000"/>
<path d="M166.46 875.00L169.41 881.50L163.51 881.50Z" fill="#000"/>
<path d="M185.72 875.00L188.67 881.50L182.77 881.50Z" fill="#000"/>
<path d="M211.40 875.00L214.35 881.50L208.45 881.50Z" fill="#000"/>
<path d="M230.66 875.00L233.61 881.50L227.71 881.50Z" fill="#000"/>
</svg>
</body></html>
